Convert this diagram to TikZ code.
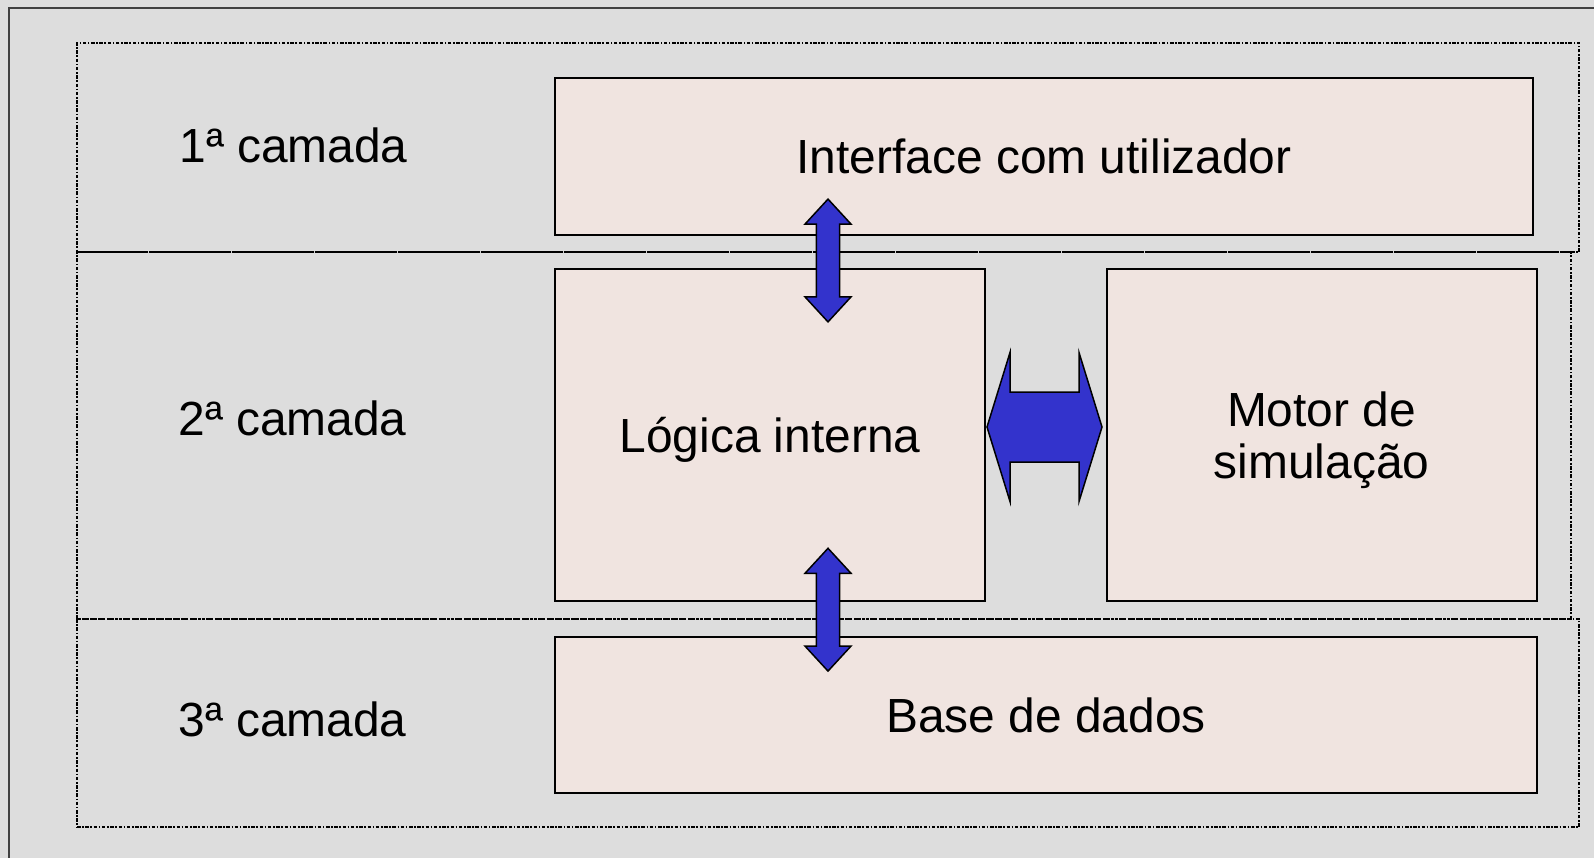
\documentclass[tikz,border=0pt]{standalone}
\usepackage{fontspec}
\setmainfont{Liberation Sans}
\definecolor{bgcol}{RGB}{221,221,221}
\definecolor{boxfill}{RGB}{240,228,224}
\definecolor{arrowblue}{RGB}{51,51,204}
\definecolor{framecol}{RGB}{64,64,64}
\begin{document}
\begin{tikzpicture}[x=1pt,y=-1pt,
  txt/.style={font=\fontsize{47.9}{51.6}\selectfont, inner sep=0pt},
  layerbox/.style={draw=black, line width=2.3pt, dash pattern=on 3.5pt off 1.6pt on 1.6pt off 1.6pt, inner sep=0pt},
  compbox/.style={draw=black, line width=2pt, fill=boxfill, inner sep=0pt, txt, text height=34pt, text depth=0pt},
  blockarrow/.style={draw=black, line width=1.5pt, fill=arrowblue, line join=miter},
  pics/vdarrow/.style={code={\path[blockarrow] (0,-61.4) -- (23,-36.4) -- (11.7,-36.4) -- (11.7,36.4) -- (23,36.4) -- (0,61.4) -- (-23,36.4) -- (-11.7,36.4) -- (-11.7,-36.4) -- (-23,-36.4) -- cycle;}},
  pics/hdarrow/.style={code={\path[blockarrow] (-57.5,0) -- (-34.5,-74.5) -- (-34.5,-35) -- (34.5,-35) -- (34.5,-74.5) -- (57.5,0) -- (34.5,74.5) -- (34.5,35) -- (-34.5,35) -- (-34.5,74.5) -- cycle;}}
]
\fill[bgcol] (0,0) rectangle (1594,858);
\useasboundingbox (0,0) rectangle (1594,858);
\draw[framecol, line width=2pt] (1594,8) -- (9,8) -- (9,858);

% layers
\node[layerbox, minimum width=1502pt, minimum height=209pt] (layer1) at (828,147.5) {};
\node[layerbox, minimum width=1494pt, minimum height=367pt] (layer2) at (824,435.5) {};
\node[layerbox, minimum width=1502pt, minimum height=208pt] (layer3) at (828,723) {};

\node[txt, anchor=base] (c1) at (293.5,162.3) {1ª camada};
\node[txt, anchor=base] (c2) at (292.5,435) {2ª camada};
\node[txt, anchor=base] (c3) at (292.5,736) {3ª camada};

% components
\node[compbox, minimum width=978pt, minimum height=157pt] (iface) at (1044,156.5) {Interface com utilizador};
\node[compbox, minimum width=430pt, minimum height=332pt] (logica) at (770,435) {Lógica interna};
\node[compbox, minimum width=430pt, minimum height=332pt] (motor) at (1322,435) {};
\node[txt, align=center, anchor=base] (motortxt) at (1321.5,478.3) {Motor de\\simulação};
\node[compbox, minimum width=982pt, minimum height=156pt] (base) at (1046,715) {Base de dados};

% arrows
\coordinate (a1) at (828,260.5);
\coordinate (a2) at (828,609.7);
\coordinate (a3) at (1044.5,427);
\pic at (a1) {vdarrow};
\pic at (a2) {vdarrow};
\pic at (a3) {hdarrow};
\end{tikzpicture}
\end{document}
